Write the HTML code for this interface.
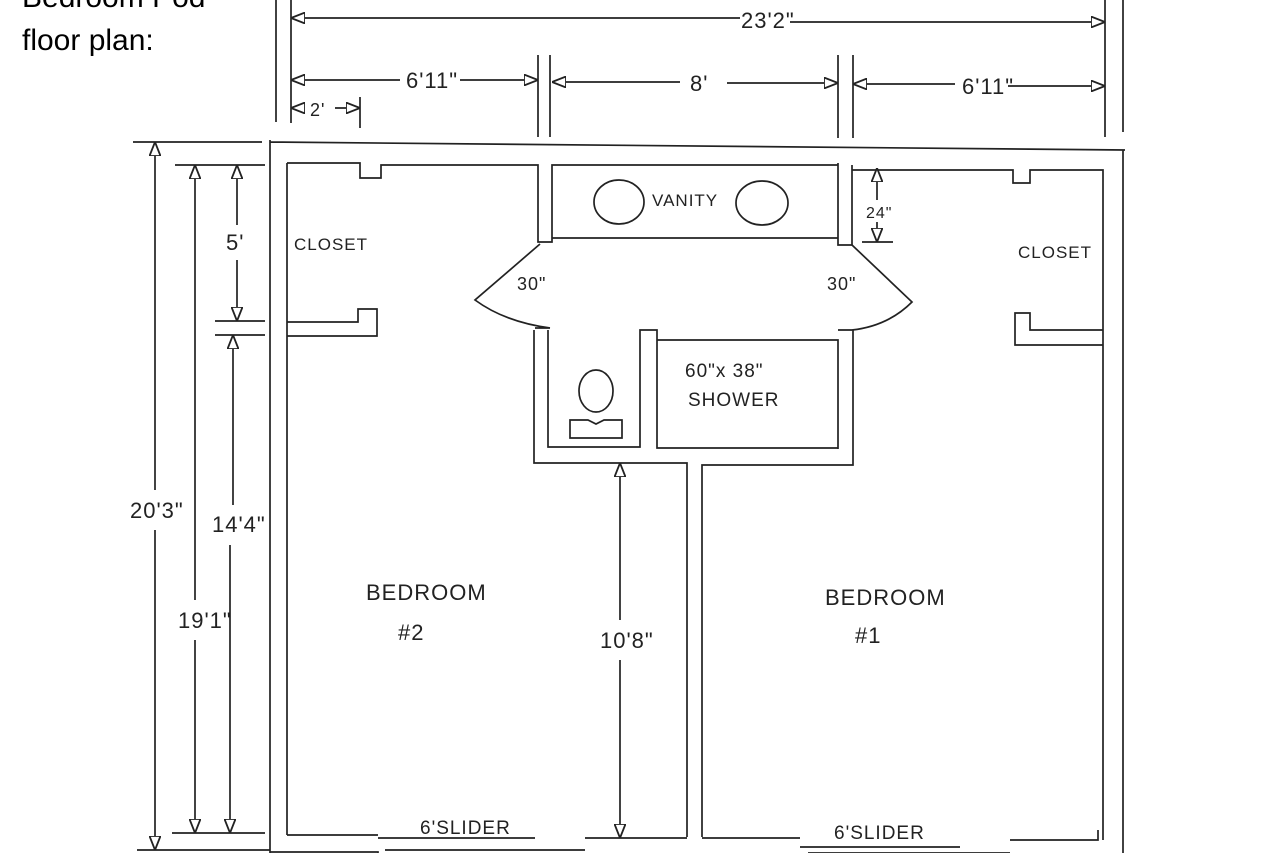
<!DOCTYPE html>
<html><head><meta charset="utf-8"><style>
html,body{margin:0;padding:0;background:#fff;width:1280px;height:853px;overflow:hidden}
svg{display:block}
text{font-family:"Liberation Sans",sans-serif;fill:#222}
.h{font-size:19px;letter-spacing:1px}
</style></head><body>
<svg width="1280" height="853" viewBox="0 0 1280 853" xmlns="http://www.w3.org/2000/svg">
<defs>
<marker id="a" viewBox="0 0 14 12" refX="14" refY="6" markerWidth="14" markerHeight="12" markerUnits="userSpaceOnUse" orient="auto-start-reverse">
<path d="M0,0.5 L14,6 L0,11.5 Z" fill="#fff" stroke="#222" stroke-width="1.8"/>
</marker>
</defs>
<text x="22" y="7" font-size="30" style="fill:#000">Bedroom Pod</text>
<text x="22" y="50" font-size="30" style="fill:#000">floor plan:</text>
<g stroke="#222" stroke-width="1.7" fill="none">
<path d="M276 0V122 M291 0V123 M1105 0V137 M1123 0V132 M538 55V137 M550 55V137 M838 55V138 M853 55V138 M360 97V128"/>
<path d="M291 18H740" marker-start="url(#a)"/>
<path d="M790 22H1105" marker-end="url(#a)"/>
<path d="M291 80H400" marker-start="url(#a)"/>
<path d="M460 80H538" marker-end="url(#a)"/>
<path d="M552 82H680" marker-start="url(#a)"/>
<path d="M727 83H838" marker-end="url(#a)"/>
<path d="M853 84H955" marker-start="url(#a)"/>
<path d="M1008 86H1105" marker-end="url(#a)"/>
<path d="M291 108H305" marker-start="url(#a)"/>
<path d="M335 108H360" marker-end="url(#a)"/>
<path d="M133 142H262 M270 142L1125 150 M270 140V853 M1123 150V853"/>
<path d="M287 163V835 M287 163H360V178H381V165H538V242H552V165H838V238H552 M538 242H552 M838 163V245H852V165 M852 170H1013V183H1030V170H1103V840"/>
<path d="M287 322H358V309H377V336H287"/>
<path d="M1103 330H1030V313H1015V345H1103"/>
<path d="M540 244L475 300 Q505 322 550 328 M535 328H550"/>
<path d="M852 245L912 302 Q888 326 852 330 M838 330H852"/>
<path d="M534 330V463H687V837 M548 330V447H640V330H657V448H838 M657 340H838V449 M853 330V465H702V837"/>
<ellipse cx="596" cy="391" rx="17" ry="21"/>
<path d="M570 420H588L596 424L604 420H622V438H570Z"/>
<ellipse cx="619" cy="202" rx="25" ry="22"/>
<ellipse cx="762" cy="203" rx="26" ry="22"/>
<path d="M877 200V168" marker-end="url(#a)"/>
<path d="M877 222V242" marker-end="url(#a)"/>
<path d="M862 242H893"/>
<path d="M287 835H378 M378 838H535 M385 850H585 M585 838H687 M270 852H378V853 M702 838H800 M800 847H960 M808 853H1010 M1010 840H1098V830"/>
<path d="M620 620V463" marker-end="url(#a)"/>
<path d="M620 660V838" marker-end="url(#a)"/>
<path d="M175 165H265 M172 833H265 M215 321H265 M215 335H265 M137 850H270"/>
<path d="M155 490V142" marker-end="url(#a)"/>
<path d="M155 530V850" marker-end="url(#a)"/>
<path d="M195 600V165" marker-end="url(#a)"/>
<path d="M195 640V833" marker-end="url(#a)"/>
<path d="M237 225V165" marker-end="url(#a)"/>
<path d="M237 260V321" marker-end="url(#a)"/>
<path d="M233 505V335" marker-end="url(#a)"/>
<path d="M230 545V833" marker-end="url(#a)"/>
</g>
<g class="h">
<text x="406" y="88" font-size="22">6'11"</text>
<text x="690" y="91" font-size="22">8'</text>
<text x="962" y="94" font-size="22">6'11"</text>
<text x="741" y="28" font-size="22">23'2"</text>
<text x="310" y="116" font-size="18">2'</text>
<text x="652" y="206" font-size="17">VANITY</text>
<text x="866" y="218" font-size="16">24"</text>
<text x="294" y="250" font-size="17">CLOSET</text>
<text x="1018" y="258" font-size="17">CLOSET</text>
<text x="517" y="290" font-size="18">30"</text>
<text x="827" y="290" font-size="18">30"</text>
<text x="685" y="377" font-size="19">60"x 38"</text>
<text x="688" y="406" font-size="19">SHOWER</text>
<text x="366" y="600" font-size="22">BEDROOM</text>
<text x="398" y="640" font-size="22">#2</text>
<text x="825" y="605" font-size="22">BEDROOM</text>
<text x="855" y="643" font-size="22">#1</text>
<text x="600" y="648" font-size="22">10'8"</text>
<text x="130" y="518" font-size="22">20'3"</text>
<text x="212" y="532" font-size="22">14'4"</text>
<text x="178" y="628" font-size="22">19'1"</text>
<text x="226" y="250" font-size="22">5'</text>
<text x="420" y="834" font-size="19">6'SLIDER</text>
<text x="834" y="839" font-size="19">6'SLIDER</text>
</g>
</svg>
</body></html>
